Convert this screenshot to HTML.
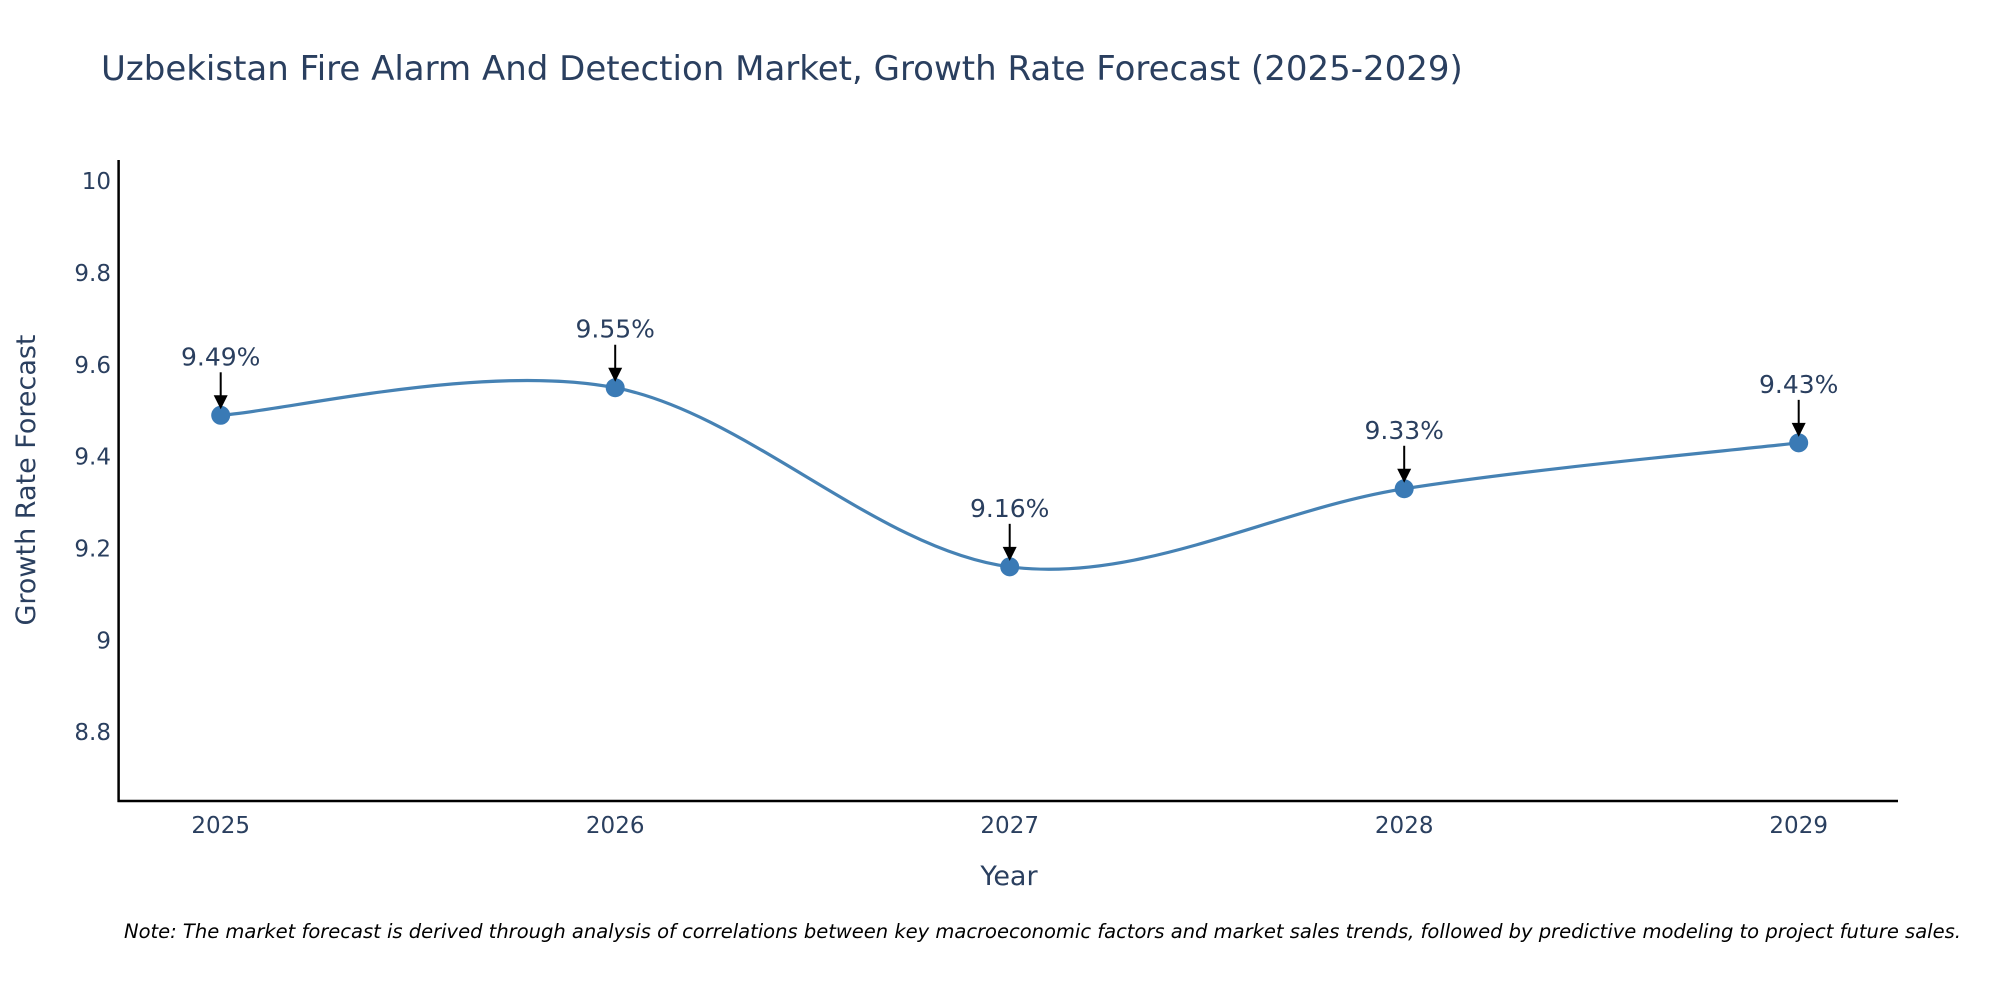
<!DOCTYPE html>
<html><head><meta charset="utf-8"><style>
body{margin:0;background:#fff;}
svg{display:block;font-family:"DejaVu Sans","Liberation Sans",sans-serif;}
</style></head><body>
<svg id="chart" width="2000" height="1000" viewBox="0 0 2000 1000">
<text x="101" y="80" font-size="34" fill="#2a3f5f">Uzbekistan Fire Alarm And Detection Market, Growth Rate Forecast (2025-2029)</text>
<g id="yticks"></g><g id="xticks"></g>
<line x1="118.6" y1="160" x2="118.6" y2="802" stroke="#000" stroke-width="2.5"/>
<line x1="117.5" y1="801" x2="1898" y2="801" stroke="#000" stroke-width="2.5"/>
<path id="curve" fill="none" stroke="#4682b4" stroke-width="3.2"/>
<g id="marks"></g>
<text transform="translate(35,480) rotate(-90)" text-anchor="middle" font-size="27" fill="#2a3f5f">Growth Rate Forecast</text>
<text x="1009" y="885" text-anchor="middle" font-size="27" fill="#2a3f5f">Year</text>
<text x="124" y="938" font-size="19.5" font-style="italic" fill="#000">Note: The market forecast is derived through analysis of correlations between key macroeconomic factors and market sales trends, followed by predictive modeling to project future sales.</text>
</svg>
<script>
const years = [2025, 2026, 2027, 2028, 2029];
const values = [9.49, 9.55, 9.16, 9.33, 9.43];
const labels = ["9.49%", "9.55%", "9.16%", "9.33%", "9.43%"];
const yTicks = [8.8, 9, 9.2, 9.4, 9.6, 9.8, 10];
const yTickLabels = ["8.8", "9", "9.2", "9.4", "9.6", "9.8", "10"];

const NS = "http://www.w3.org/2000/svg";
function X(v){ return 220.7 + (v - 2025) * 394.5; }
function Y(v){ return 640.3 - (v - 9) * 459.2; }
function mk(tag, attrs, parent){ const e = document.createElementNS(NS, tag); for (const k in attrs) e.setAttribute(k, attrs[k]); parent.appendChild(e); return e; }

const yt = document.getElementById('yticks');
yTicks.forEach((t, i) => {
  const e = mk('text', {x: 111, y: Y(t) + 8, 'text-anchor': 'end', 'font-size': 23, fill: '#2a3f5f'}, yt);
  
  
  e.textContent = yTickLabels[i];
});
const xt = document.getElementById('xticks');
years.forEach(y => {
  const e = mk('text', {x: X(y), y: 833, 'text-anchor': 'middle', 'font-size': 23, fill: '#2a3f5f'}, xt);
  
  
  e.textContent = y;
});

const pts = years.map((y, i) => [X(y), Y(values[i])]);
let d = `M${pts[0][0]},${pts[0][1]}`;
const tension = 0.5;
for (let i = 0; i < pts.length - 1; i++) {
  const p0 = pts[Math.max(0, i - 1)], p1 = pts[i], p2 = pts[i + 1], p3 = pts[Math.min(pts.length - 1, i + 2)];
  const c1 = [p1[0] + (p2[0] - p0[0]) * tension / 3, p1[1] + (p2[1] - p0[1]) * tension / 3];
  const c2 = [p2[0] - (p3[0] - p1[0]) * tension / 3, p2[1] - (p3[1] - p1[1]) * tension / 3];
  d += ` C${c1[0]},${c1[1]} ${c2[0]},${c2[1]} ${p2[0]},${p2[1]}`;
}
document.getElementById('curve').setAttribute('d', d);

const mg = document.getElementById('marks');
pts.forEach((p, i) => {
  const c = mk('circle', {cx: p[0], cy: p[1], r: 9.5, fill: '#3a7ab5'}, mg);
  
  
  const l = mk('line', {x1: p[0], y1: p[1] - 43, x2: p[0], y2: p[1] - 18, stroke: '#000', 'stroke-width': 2}, mg);
  
  
  const h = mk('polygon', {points: `${p[0]-7},${p[1]-20} ${p[0]+7},${p[1]-20} ${p[0]},${p[1]-6}`, fill: '#000'}, mg);
  
  
  const t = mk('text', {x: p[0], y: p[1] - 50, 'text-anchor': 'middle', 'font-size': 25, fill: '#2a3f5f'}, mg);
  
  
  t.textContent = labels[i];
});
</script>
</body></html>
